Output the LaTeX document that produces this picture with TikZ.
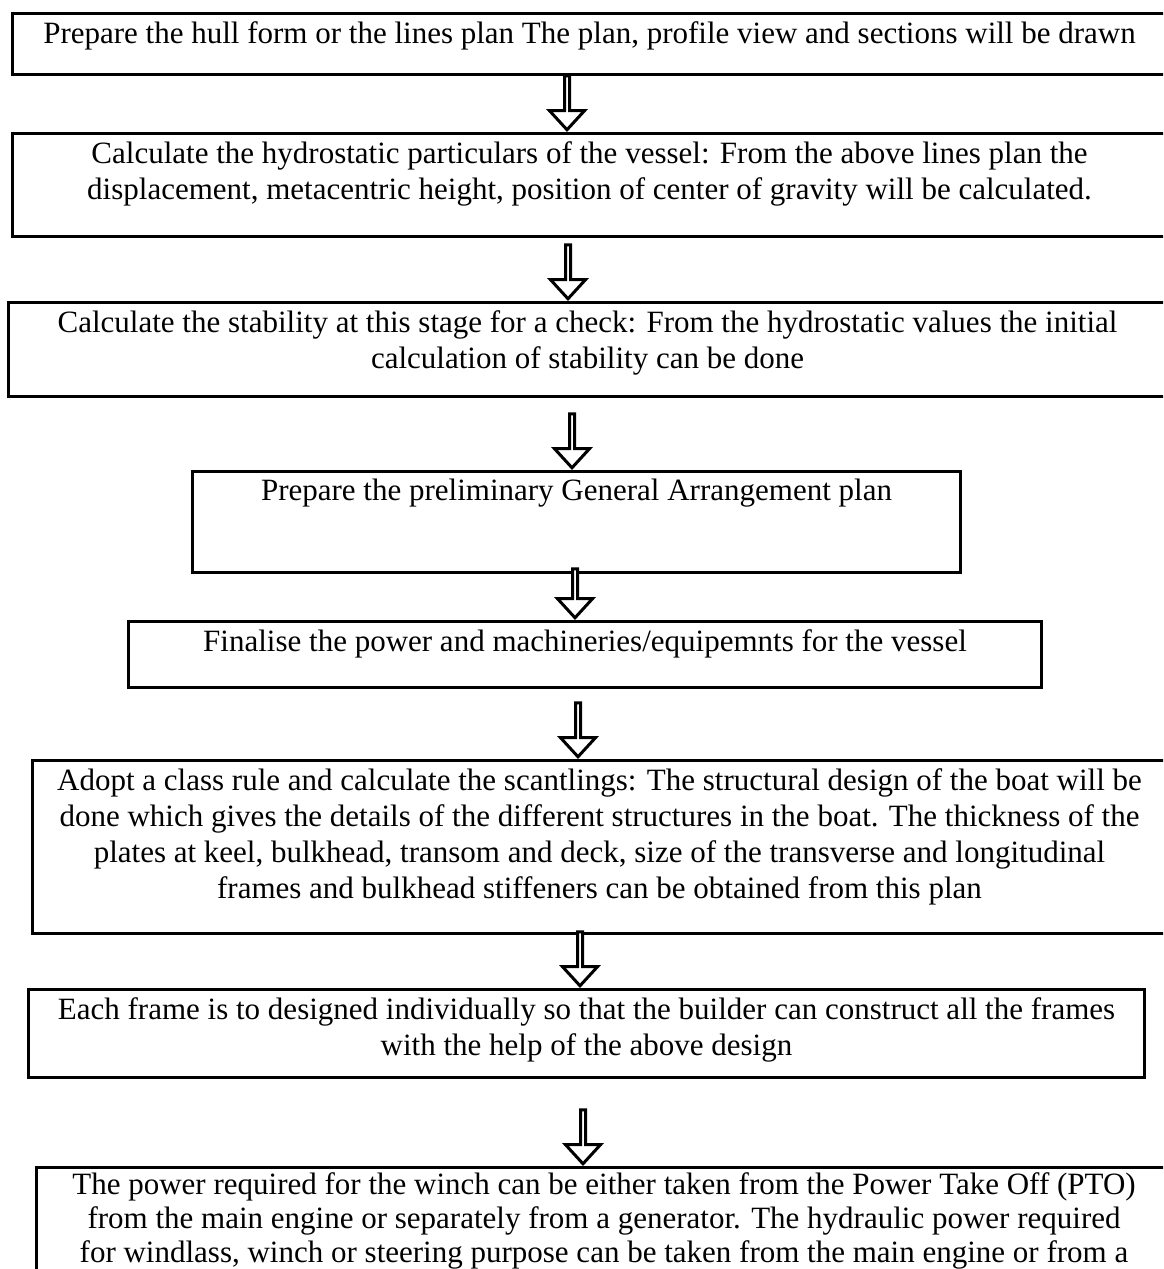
\documentclass[tikz,border=0pt]{standalone}
\usepackage{fontspec}
\setmainfont{Liberation Serif}
\usetikzlibrary{positioning, shapes.arrows, calc}

\tikzset{
  stepbox/.style={draw, line width=1.5pt, rectangle, anchor=north west, inner sep=0pt},
  steptext/.style={anchor=north, align=center, inner sep=4.5pt, font=\fontsize{15.5}{18}\selectfont},
  downarrow/.style={single arrow, draw, line width=1.5pt, fill=white, rotate=-90, anchor=tip,
    inner sep=0pt, minimum width=17.5pt, minimum height=27pt,
    single arrow head extend=4.5pt, single arrow tip angle=85}
}

\begin{document}
\begin{tikzpicture}[x=0.5pt, y=-0.5pt]
\useasboundingbox (0,0) rectangle (1163,1269);
\clip (0,0) rectangle (1163,1269);

% Steps
\node (b1) at (11, 12) [stepbox, minimum width=577pt, minimum height=30.5pt,
  label={[steptext]north:{Prepare the hull form or the lines plan The plan, profile view and sections will be drawn}}] {};
\node (b2) at (11, 132) [stepbox, minimum width=577pt, minimum height=51.5pt,
  label={[steptext]north:{Calculate the hydrostatic particulars of the vessel: From the above lines plan the\\ displacement, metacentric height, position of center of gravity will be calculated.}}] {};
\node (b3) at (7, 301) [stepbox, minimum width=579pt, minimum height=47pt,
  label={[steptext]north:{Calculate the stability at this stage for a check: From the hydrostatic values the initial\\ calculation of stability can be done}}] {};
\node (b4) at (191, 470) [stepbox, minimum width=384pt, minimum height=50.5pt,
  label={[steptext]north:{Prepare the preliminary General Arrangement plan}}] {};
\node (b5) at (127, 620) [stepbox, minimum width=456.5pt, minimum height=33pt,
  label={[steptext]north:{Finalise the power and machineries/equipemnts for the vessel}}] {};
\node (b6) at (31, 759) [stepbox, minimum width=567pt, minimum height=86.5pt,
  label={[steptext]north:{Adopt a class rule and calculate the scantlings: The structural design of the boat will be\\ done which gives the details of the different structures in the boat. The thickness of the\\ plates at keel, bulkhead, transom and deck, size of the transverse and longitudinal\\ frames and bulkhead stiffeners can be obtained from this plan}}] {};
\node (b7) at (27, 988) [stepbox, minimum width=558pt, minimum height=44pt,
  label={[steptext]north:{Each frame is to designed individually so that the builder can construct all the frames\\ with the help of the above design}}] {};
\node (b8) at (35, 1166) [stepbox, minimum width=567.5pt, minimum height=75pt,
  label={[steptext, inner sep=3pt, font=\fontsize{15.5}{17}\selectfont]north:{The power required for the winch can be either taken from the Power Take Off (PTO)\\ from the main engine or separately from a generator. The hydraulic power required\\ for windlass, winch or steering purpose can be taken from the main engine or from a}}] {};

% Arrows
\node (a1) at ($(b2.north west)+(556,0)$) [downarrow] {};
\node (a2) at ($(b3.north west)+(561,0)$) [downarrow] {};
\node (a3) at ($(b4.north west)+(381,0)$) [downarrow] {};
\node (a4) at ($(b5.north west)+(448,0)$) [downarrow, minimum height=24.5pt] {};
\node (a5) at ($(b6.north west)+(547,0)$) [downarrow] {};
\node (a6) at ($(b7.north west)+(553,0)$) [downarrow] {};
\node (a7) at ($(b8.north west)+(548,0)$) [downarrow] {};
\end{tikzpicture}
\end{document}
